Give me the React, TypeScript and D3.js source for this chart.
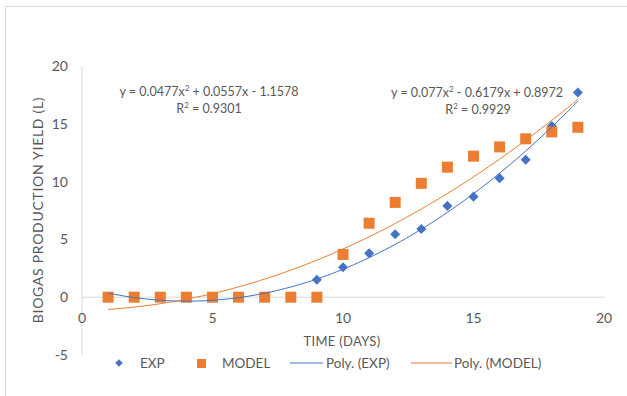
import React from 'react'
import * as d3 from 'd3'

const days = [1, 2, 3, 4, 5, 6, 7, 8, 9, 10, 11, 12, 13, 14, 15, 16, 17, 18, 19]
const expValues = [0, 0, 0, 0, 0, 0, 0, 0, 1.5, 2.6, 3.8, 5.45, 5.9, 7.9, 8.7, 10.3, 11.9, 14.8, 17.7]
const modelValues = [0, 0, 0, 0, 0, 0, 0, 0, 0, 3.7, 6.4, 8.2, 9.85, 11.25, 12.2, 13.0, 13.7, 14.3, 14.7]

// trendline coefficients as printed on the chart (c0, c1, c2)
const expPoly = [0.8972, -0.6179, 0.077]
const modelPoly = [-1.1578, 0.0557, 0.0477]

const xTicks = [0, 5, 10, 15, 20]
const yTicks = [-5, 0, 5, 10, 15, 20]

const BLUE = '#4472C4'
const ORANGE = '#ED7D31'
const GRID = '#d9d9d9'
const TXT = '#595959'
const FONT = 'Lato, "Open Sans", sans-serif'

const App = () => {
  const x = d3.scaleLinear().domain([0, 20]).range([82, 604])
  const y = d3.scaleLinear().domain([-5, 20]).range([355, 66])

  const polyAt = (c: number[], t: number) => c[0] + c[1] * t + c[2] * t * t
  const samples = d3.range(1, 19.001, 0.2)

  const trend = (c: number[]) =>
    d3
      .line<number>()
      .x((t) => x(t))
      .y((t) => y(polyAt(c, t)))(samples)

  const diamond = d3.symbol().type(d3.symbolDiamond2).size(64)

  return (
    <svg width={627} height={396} style={{ position: 'absolute', left: 0, top: 0 }} fontFamily={FONT}>
      <rect width={627} height={396} fill="#fff" />
      {/* chart border (top + left only visible) */}
      <line x1={5.5} x2={627} y1={6.5} y2={6.5} stroke={GRID} />
      <line x1={5.5} x2={5.5} y1={6.5} y2={396} stroke={GRID} />

      {/* axes */}
      <line x1={x(0)} x2={x(0)} y1={y(20)} y2={y(-5)} stroke={GRID} />
      <line x1={x(0)} x2={x(20) + 1} y1={y(0)} y2={y(0)} stroke={GRID} />

      {yTicks.map((v) => (
        <text key={'y' + v} x={68} y={y(v)} dy="0.35em" textAnchor="end" fontSize={14} fill={TXT}>
          {v}
        </text>
      ))}
      {xTicks.map((v) => (
        <text key={'x' + v} x={x(v)} y={y(0) + 21} dy="0.35em" textAnchor="middle" fontSize={14} fill={TXT}>
          {v}
        </text>
      ))}

      <text x={342} y={341} dy="0.35em" textAnchor="middle" fontSize={13} fill={TXT} letterSpacing={0.3}>
        TIME (DAYS)
      </text>
      <text
        transform="translate(38,210) rotate(-90)"
        dy="0.35em"
        textAnchor="middle"
        fontSize={14}
        letterSpacing={0.7}
        fill={TXT}
      >
        BIOGAS PRODUCTION YIELD (L)
      </text>

      {/* markers */}
      <g id="exp">
        {days.map((d, i) => (
          <path key={i} d={diamond()!} transform={`translate(${x(d)},${y(expValues[i])})`} fill={BLUE} />
        ))}
      </g>
      <g id="model">
        {days.map((d, i) => (
          <rect key={i} x={x(d) - 5.5} y={y(modelValues[i]) - 5.5} width={11} height={11} fill={ORANGE} />
        ))}
      </g>

      {/* polynomial trendlines */}
      <path d={trend(expPoly)!} fill="none" stroke={BLUE} strokeWidth={1} />
      <path d={trend(modelPoly)!} fill="none" stroke={ORANGE} strokeWidth={1} />

      {/* trendline labels */}
      <g fontSize={12.5} fill={TXT}>
        <text x={209} y={92} dy="0.35em" textAnchor="middle">
          y = 0.0477x<tspan dy="-5" fontSize={8}>2</tspan>
          <tspan dy="5"> + 0.0557x - 1.1578</tspan>
        </text>
        <text x={209} y={109} dy="0.35em" textAnchor="middle">
          R<tspan dy="-5" fontSize={8}>2</tspan>
          <tspan dy="5"> = 0.9301</tspan>
        </text>
        <text x={563} y={93} dy="0.35em" textAnchor="end">
          y = 0.077x<tspan dy="-5" fontSize={8}>2</tspan>
          <tspan dy="5"> - 0.6179x + 0.8972</tspan>
        </text>
        <text x={478} y={110} dy="0.35em" textAnchor="middle">
          R<tspan dy="-5" fontSize={8}>2</tspan>
          <tspan dy="5"> = 0.9929</tspan>
        </text>
      </g>

      {/* legend */}
      <g fontSize={13.5} fill={TXT}>
        <path d={d3.symbol().type(d3.symbolDiamond2).size(36)()!} transform="translate(119,363)" fill={BLUE} />
        <text x={140} y={363} dy="0.35em">EXP</text>
        <rect x={197} y={359} width={9} height={9} fill={ORANGE} />
        <text x={222} y={363} dy="0.35em">MODEL</text>
        <line x1={290} x2={323} y1={363} y2={363} stroke={BLUE} />
        <text x={326} y={363} dy="0.35em">Poly. (EXP)</text>
        <line x1={411} x2={452} y1={363} y2={363} stroke={ORANGE} />
        <text x={454} y={363} dy="0.35em">Poly. (MODEL)</text>
      </g>
    </svg>
  )
}

export default App
